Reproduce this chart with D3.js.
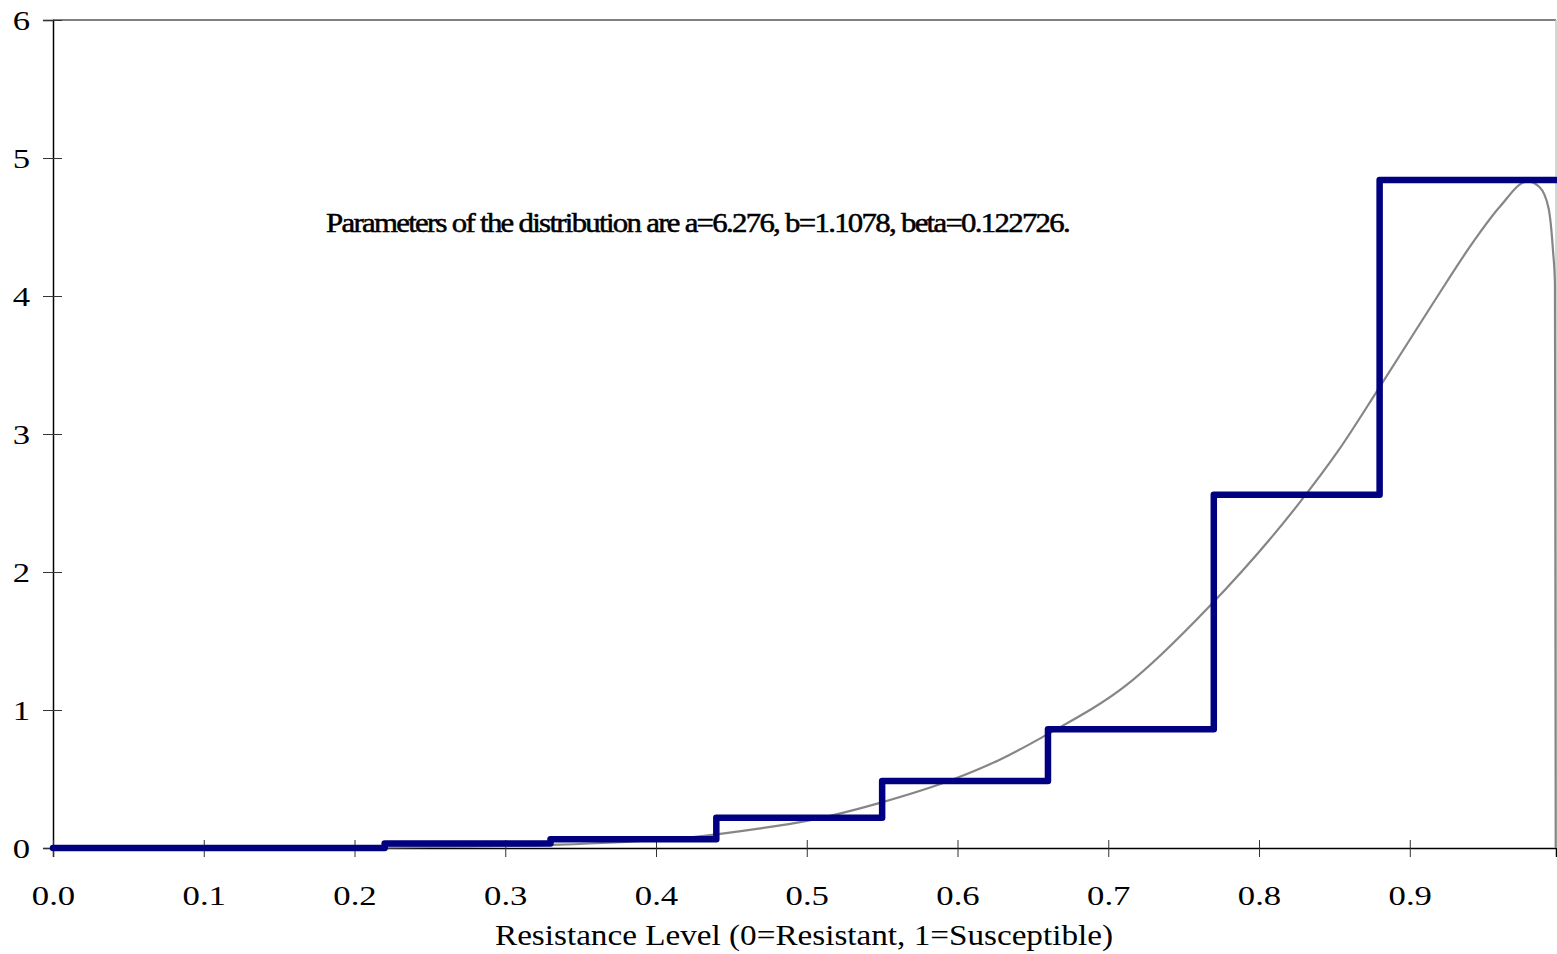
<!DOCTYPE html>
<html>
<head>
<meta charset="utf-8">
<script src="https://cdn.jsdelivr.net/npm/d3@7"></script>
<style>
  body { margin: 0; background: #fff; }
  svg { display: block; }
  text { font-family: "Liberation Serif", "Times New Roman", serif; fill: #000; }
</style>
</head>
<body>
<svg id="chart"></svg>
<script>
// step histogram (observed), bin edges + heights
const binEdges = [0, 0.11, 0.22, 0.33, 0.44, 0.55, 0.66, 0.77, 0.88, 0.997];
const binValues = [0, 0, 0.033, 0.063, 0.22, 0.485, 0.86, 2.56, 4.84];

// fitted beta curve
const curveX = [0, 0.1, 0.2, 0.27, 0.336, 0.4, 0.429, 0.468, 0.5, 0.548, 0.599, 0.628, 0.659, 0.712, 0.767, 0.826, 0.852, 0.88, 0.915, 0.942, 0.96, 0.978, 0.986, 0.992, 0.995, 0.9963, 0.9966, 0.9968];
const curveY = [0, 0, 0.002, 0.01, 0.024, 0.058, 0.085, 0.14, 0.196, 0.325, 0.505, 0.64, 0.82, 1.18, 1.75, 2.49, 2.87, 3.34, 3.94, 4.39, 4.65, 4.83, 4.79, 4.64, 4.33, 4.09, 2.0, 0];

const xTicks = [0, 0.1, 0.2, 0.3, 0.4, 0.5, 0.6, 0.7, 0.8, 0.9];
const yTicks = [0, 1, 2, 3, 4, 5, 6];
const xTitle = 'Resistance Level (0=Resistant, 1=Susceptible)';
const note = 'Parameters of the distribution are a=6.276, b=1.1078, beta=0.122726.';

const width = 1557, height = 954;
const margin = {top: 20, right: 1, bottom: 106, left: 53};
const xMax = 0.997;
const stretch = 1.24; // labels in the original are drawn wide

const svg = d3.select('#chart')
    .attr('width', width)
    .attr('height', height);

const x = d3.scaleLinear()
    .domain([0, xMax])
    .range([margin.left, width - margin.right]);

const y = d3.scaleLinear()
    .domain([0, 6])
    .range([height - margin.bottom, margin.top]);

// frame: top and right in grey
svg.append('line')
    .attr('x1', x(0)).attr('x2', x(xMax))
    .attr('y1', y(6)).attr('y2', y(6))
    .attr('stroke', '#808080').attr('stroke-width', 2);
svg.append('line')
    .attr('x1', x(xMax)).attr('x2', x(xMax))
    .attr('y1', y(6)).attr('y2', y(0))
    .attr('stroke', '#c8c8c8').attr('stroke-width', 1.5);

// y axis
const yAxis = svg.append('g')
    .attr('transform', `translate(${x(0)},0)`)
    .call(d3.axisLeft(y).tickValues(yTicks).tickSize(10).tickPadding(12).tickFormat(d3.format('d')));
yAxis.selectAll('.tick line').clone().attr('x2', 9);
yAxis.select('.domain').attr('stroke', '#000').attr('stroke-width', 1.5);
yAxis.selectAll('.tick line').attr('stroke', '#333');
yAxis.selectAll('text')
    .style('font-size', '28px')
    .attr('x', 0)
    .attr('dy', '0.34em')
    .attr('transform', `translate(-23,0) scale(${stretch},1)`);

// x axis
const xAxis = svg.append('g')
    .attr('transform', `translate(0,${y(0)})`)
    .call(d3.axisBottom(x).tickValues(xTicks).tickSize(9).tickPadding(28).tickFormat(d3.format('.1f')));
xAxis.selectAll('.tick line').clone().attr('y2', -8);
xAxis.select('.domain').attr('stroke', '#000').attr('stroke-width', 1.5);
xAxis.selectAll('.tick line').attr('stroke', '#333');
xAxis.selectAll('text')
    .style('font-size', '28px')
    .attr('transform', `scale(${stretch},1)`);

svg.append('text')
    .attr('x', 495)
    .attr('y', 945)
    .attr('textLength', 618)
    .attr('lengthAdjust', 'spacingAndGlyphs')
    .style('font-size', '29px')
    .text(xTitle);

// fitted curve
const curve = curveX.map((d, i) => [d, curveY[i]]);
svg.append('path')
    .datum(curve)
    .attr('fill', 'none')
    .attr('stroke', '#868686')
    .attr('stroke-width', 2.2)
    .attr('d', d3.line().x(d => x(d[0])).y(d => y(d[1])).curve(d3.curveMonotoneX));

// step histogram
const steps = [];
binValues.forEach((v, i) => {
    steps.push([binEdges[i], v]);
    steps.push([binEdges[i + 1], v]);
});
svg.append('path')
    .datum(steps)
    .attr('fill', 'none')
    .attr('stroke', '#000080')
    .attr('stroke-width', 6.5)
    .attr('stroke-linejoin', 'round')
    .attr('stroke-linecap', 'round')
    .attr('d', d3.line().x(d => x(d[0])).y(d => y(d[1])));

svg.append('text')
    .attr('x', 326)
    .attr('y', 232)
    .attr('textLength', 743)
    .attr('lengthAdjust', 'spacingAndGlyphs')
    .style('font-size', '27px')
    .style('letter-spacing', '-1.5px')
    .style('stroke', '#000')
    .style('stroke-width', 0.5)
    .text(note);
</script>
</body>
</html>
